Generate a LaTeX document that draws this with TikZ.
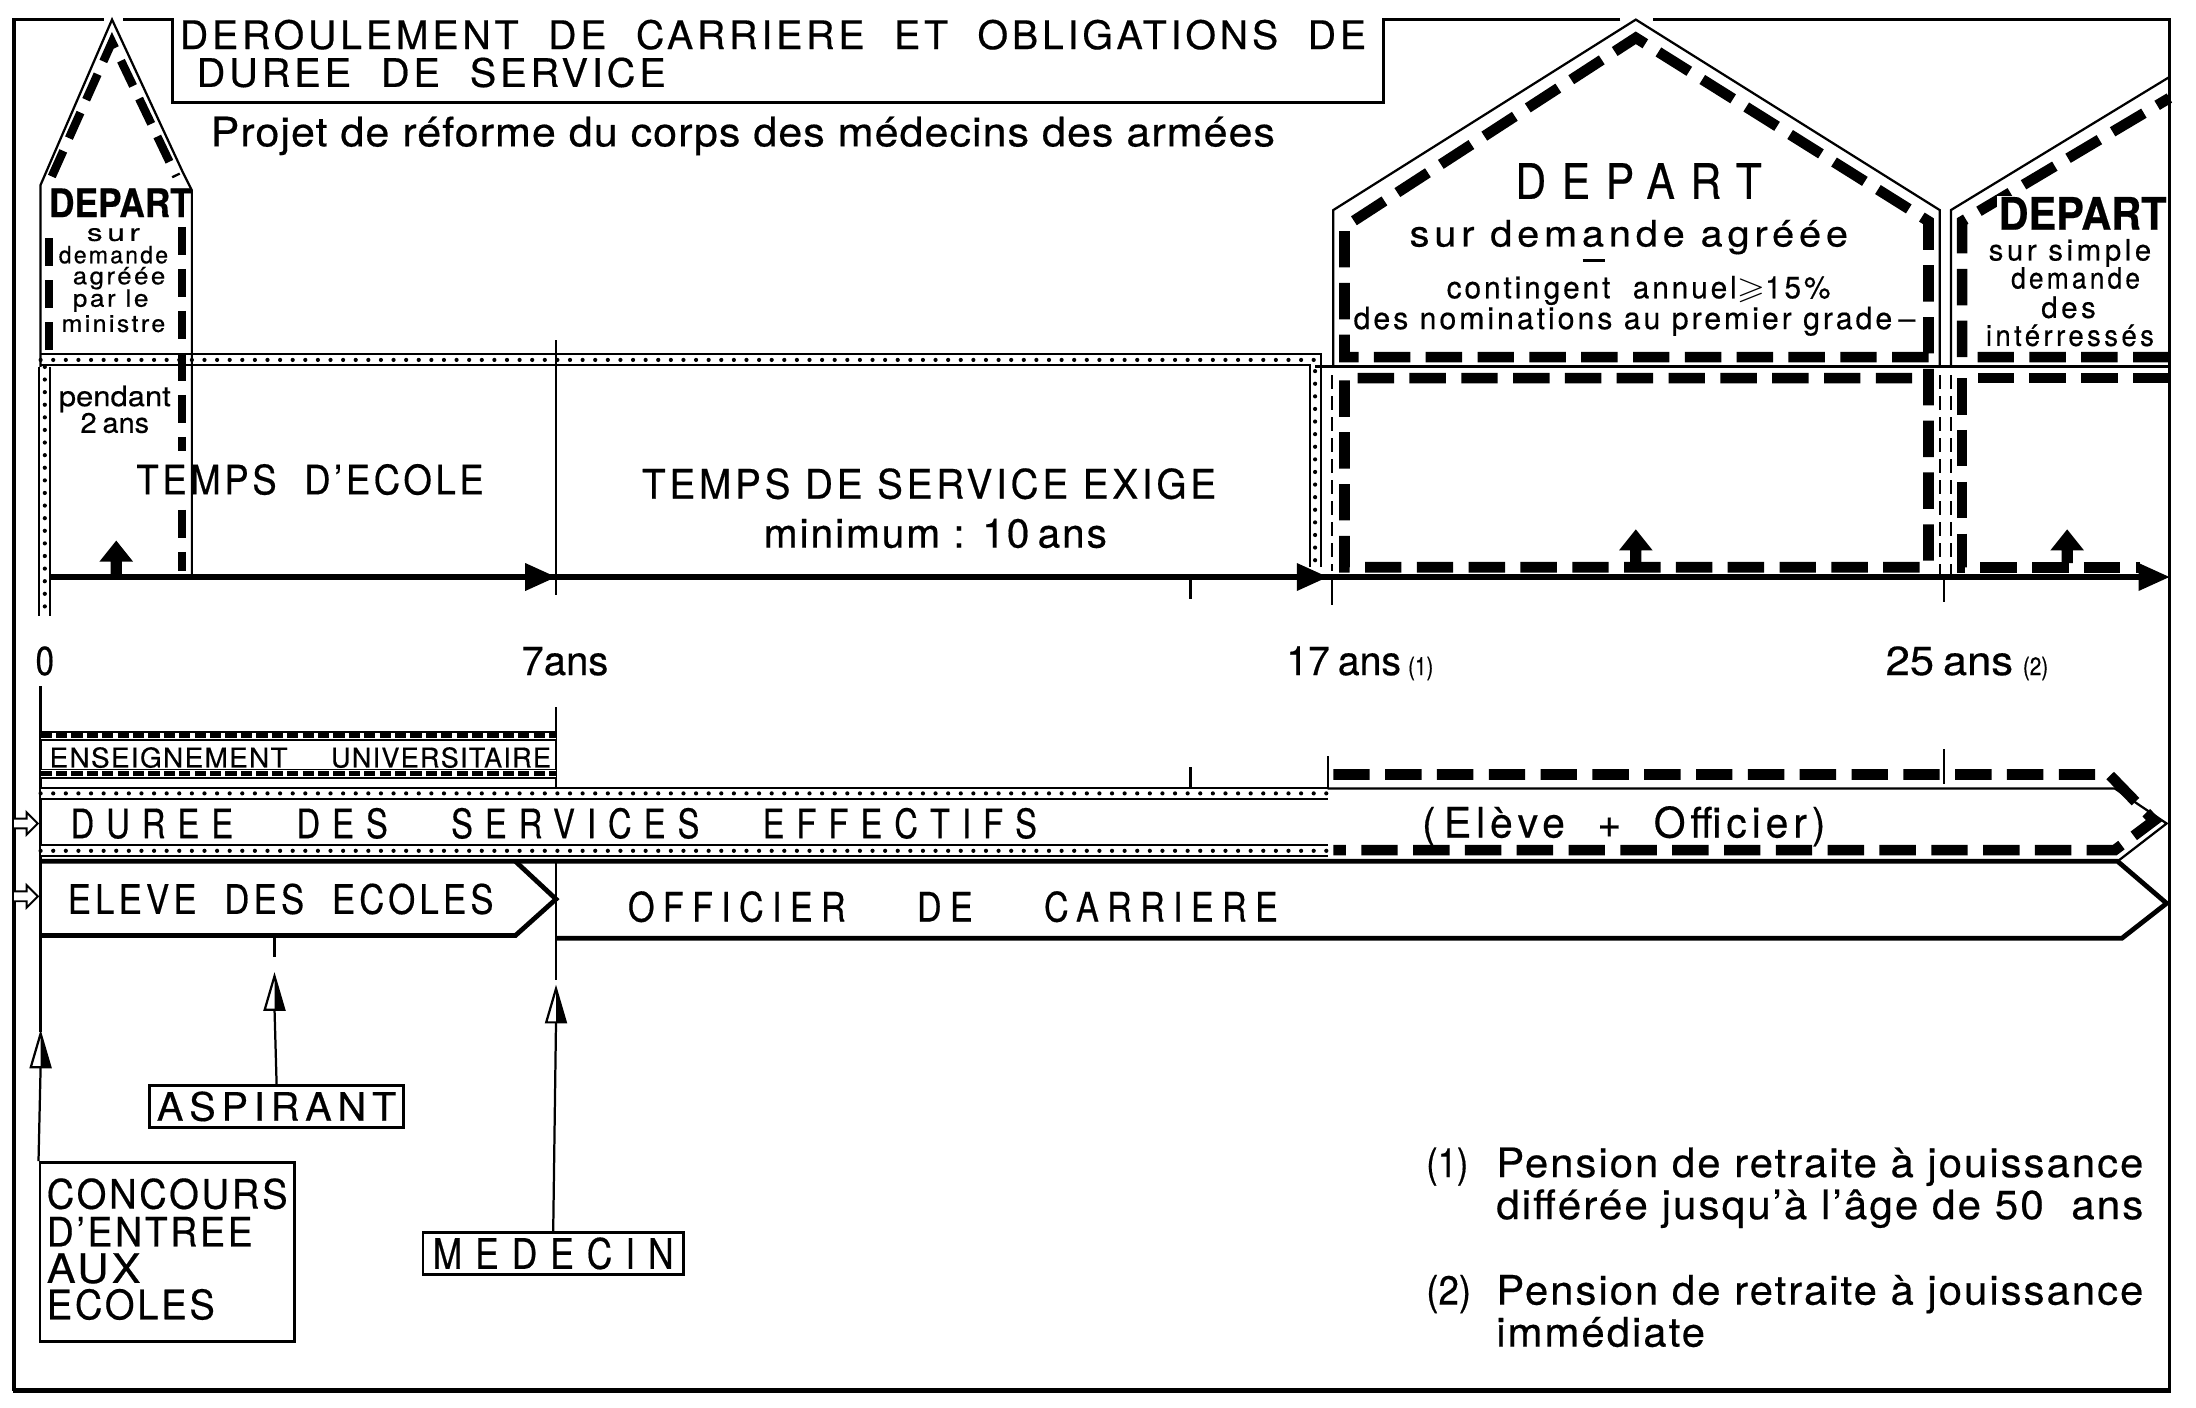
\documentclass[tikz,border=0pt]{standalone}
\usepackage{fontspec}
\usepackage{amssymb}
\usepackage{graphicx}
\setmainfont{TeX Gyre Heros}[FakeStretch=0.82,FakeBold=0.4]
\newlength\fitw
\newcommand\fitto[2]{\settowidth\fitw{#2}\pgfmathsetmacro\fitr{#1/\fitw}\scalebox{\fitr}[1]{#2}}
\newcommand\fsz[1]{\fontsize{#1}{#1}\selectfont}
\newcommand\lsp[1]{\addfontfeatures{LetterSpace=#1}}
\newcommand\uparr[2]{\fill (#1,#2) -- ++(12,15) -- ++(-8,0) -- ++(0,9) -- ++(-8,0) -- ++(0,-9) -- ++(-8,0) -- cycle;}
\newcommand\axhead[2]{\fill (#1,#2) -- ++(-22,-10) -- ++(0,20) -- cycle;}
\newcommand\halfhead[2]{\draw[line width=0.8pt,fill=white] (#1,#2) -- ++(-7,24) -- ++(14,0) -- cycle; \fill (#1,#2) -- ++(7,24) -- ++(-7,0) -- cycle;}
\newcommand\openarr[1]{\draw[line width=0.7pt,fill=white] (10,#1-3.5) -- (19,#1-3.5) -- (19,#1-8) -- (27,#1) -- (19,#1+8) -- (19,#1+3.5) -- (10,#1+3.5);}
\begin{document}
\begin{tikzpicture}[x=0.5pt,y=-0.5pt,
  t/.style={anchor=base west, inner sep=0pt},
  tc/.style={anchor=base, inner sep=0pt},
  fr/.style={line width=1.1pt},
  thn/.style={line width=0.8pt},
  bnd/.style={line width=1.7pt},
  bdash/.style={line width=3.8pt, dash pattern=on 13pt off 5.5pt},
  ldash/.style={line width=3pt, dash pattern=on 10pt off 5pt},
  tdash/.style={line width=0.7pt, dash pattern=on 5pt off 2.5pt},
  dotstrip/.style={preaction={draw, solid, line width=0.7pt, double, double distance=3.2pt, line cap=butt}, line width=1.5pt, line cap=round, dash pattern=on 0pt off 4.5pt},
  dashstrip/.style={preaction={draw, solid, line width=0.6pt, double, double distance=2.4pt}, line width=1.8pt, dash pattern=on 4pt off 1.5pt},
  boxn/.style={draw, line width=1pt, inner sep=0pt}
]
\useasboundingbox (0,0) rectangle (1568,1005);
\fill[white] (0,0) rectangle (1568,1005);

% ---------------- frame and title box
\draw[fr] (74,14) -- (10,14) -- (10,993);
\draw[line width=1.8pt] (9,993) -- (1550,993);
\draw[fr] (1549,994) -- (1549,14) -- (1180,14);
\draw[fr] (1157,14) -- (988,14) -- (988,73) -- (123,73) -- (123,14) -- (88,14);

\node[t, font={\fsz{14}\lsp{8}}] (title1) at (128,35) {\fitto{423.5}{DEROULEMENT\ \ DE\ \ CARRIERE\ \ ET\ \ OBLIGATIONS\ \ DE}};
\node[t, font={\fsz{14}\lsp{8}}] (title2) at (140,62) {\fitto{167.5}{DUREE\ \ DE\ \ SERVICE}};
\node[t, font={\fsz{14.5}\lsp{2}}] (projet) at (150,104.5) {\fitto{380}{Projet de réforme du corps des médecins des armées}};

% ---------------- upper timeline box
\draw[dotstrip] (29,257) -- (939,257) -- (939,405);
\draw[line width=1.1pt] (939,261.5) -- (1549,261.5);
\draw[dotstrip] (32,262) -- (32,440);
\draw[thn] (397,243) -- (397,425);
\draw[thn] (850,412) -- (850,428);
\draw[thn] (951,412) -- (951,432);
\draw[thn] (1388,412) -- (1388,430);
\draw[tdash] (951,268) -- (951,408);
\draw[tdash] (1385,268) -- (1385,410);
\draw[tdash] (1393,268) -- (1393,410);

% left house
\draw[thn] (29,262) -- (29,132) -- (80,14) -- (131,124) -- (137,136) -- (137,412);
\draw[ldash] (35,250) -- (35,162);
\draw[ldash] (37,126) -- (80,30) -- (126,126);
\draw[ldash] (130,162) -- (130,322);
\draw[ldash] (130,364) -- (130,408);
\node[tc, font={\fsz{14}\bfseries}] (ldep) at (86,155) {\fitto{51}{DEPART}};
\node[tc, font={\fsz{8.5}\lsp{12}}] (l1) at (81,172) {\fitto{19}{sur}};
\node[tc, font={\fsz{8.5}\lsp{8}}] (l2) at (81,188) {\fitto{39}{demande}};
\node[tc, font={\fsz{8.5}\lsp{8}}] (l3) at (85,203) {\fitto{33}{agréée}};
\node[tc, font={\fsz{8.5}\lsp{8}}] (l4) at (79,219) {\fitto{27}{par le}};
\node[tc, font={\fsz{8.5}\lsp{8}}] (l5) at (81,237) {\fitto{37}{ministre}};
\node[tc, font={\fsz{10}}] (l6) at (82,290) {\fitto{40}{pendant}};
\node[tc, font={\fsz{10}}] (l7) at (82,309) {\fitto{24.5}{2\,ans}};
\uparr{83}{386}

% big house
\draw[thn] (952,262) -- (952,150) -- (1168,14) -- (1385,150) -- (1385,262);
\draw[bdash] (1377,255) -- (960,255) -- (960,162) -- (1168,27) -- (1377,158) -- (1377,405) -- (960,405) -- (960,270) -- (1370,270);
\node[tc, font={\fsz{17.5}\lsp{30}}] (bdep) at (1170,142) {\fitto{88}{DEPART}};
\node[tc, font={\fsz{13}\lsp{10}}] (b1) at (1163,176) {\fitto{156.5}{sur demande agréée}};
\draw[line width=1pt] (1130,186) -- (1146,186);
\node[tc, font={\fsz{11}\lsp{8}}] (b2) at (1170,213) {\fitto{137}{contingent\ \ annuel$\geqslant$15\%}};
\node[tc, font={\fsz{11}\lsp{8}}] (b3) at (1167,235) {\fitto{200.5}{des nominations au premier grade\,–}};
\uparr{1168}{378}

% small house
\draw[thn] (1393,262) -- (1393,150) -- (1549,55);
\draw[bdash] (1549,255) -- (1401,255) -- (1401,158) -- (1549,70);
\draw[bdash] (1549,270) -- (1401,270) -- (1401,405) -- (1528,405);
\node[tc, fill=white, inner sep=0.5pt, font={\fsz{16}\bfseries}] (sdep) at (1487,164) {\fitto{60}{DEPART}};
\node[tc, font={\fsz{10.5}\lsp{10}}] (s1) at (1478,186) {\fitto{58}{sur simple}};
\node[tc, font={\fsz{10.5}\lsp{10}}] (s2) at (1482,206) {\fitto{46}{demande}};
\node[tc, font={\fsz{10.5}\lsp{10}}] (s3) at (1477,227) {\fitto{19.5}{des}};
\node[tc, font={\fsz{10.5}\lsp{10}}] (s4) at (1478,247) {\fitto{60}{intérressés}};
\uparr{1476}{378}

% upper texts
\node[t, font={\fsz{14.5}\lsp{8}}] (tecole) at (97,353) {\fitto{124}{TEMPS\ \ D’ECOLE}};
\node[t, font={\fsz{14.5}\lsp{8}}] (tserv) at (458,356) {\fitto{205}{TEMPS DE SERVICE EXIGE}};
\node[t, font={\fsz{14.5}\lsp{4}}] (tmin) at (545,391) {\fitto{122.5}{minimum : 10\,ans}};

% axis
\draw[line width=2.4pt] (35,412) -- (1540,412);
\axhead{397}{412}
\axhead{948}{412}
\axhead{1549}{412}

% axis labels
\node[t, font={\fsz{14.5}}] (a0) at (25,482) {0};
\node[t, font={\fsz{14.5}}] (a7) at (372,482) {\fitto{31}{7ans}};
\node[t, font={\fsz{14.5}}] (a17) at (918,482) {\fitto{41}{17\,ans}};
\node[t, font={\fsz{9}}] (a17n) at (1005,482) {(1)};
\node[t, font={\fsz{14.5}}] (a25) at (1346,482) {\fitto{45.5}{25\,ans}};
\node[t, font={\fsz{9}}] (a25n) at (1444,482) {(2)};

% ---------------- lower bands
\draw[thn] (29,490) -- (29,737);
\draw[thn] (397,505) -- (397,563);
\draw[thn] (948,540) -- (948,563);
\draw[thn] (850,548) -- (850,562);
\draw[thn] (1388,535) -- (1388,560);

% enseignement
\draw[dashstrip] (29,525.5) -- (397,525.5);
\draw[dashstrip] (29,552.5) -- (397,552.5);
\node[t, font={\fsz{9.7}\lsp{4}}] (ens1) at (35,548) {\fitto{85}{ENSEIGNEMENT}};
\node[t, font={\fsz{9.7}\lsp{4}}] (ens2) at (236,548) {\fitto{78.5}{UNIVERSITAIRE}};

% duree
\draw[dotstrip] (29,566.5) -- (948,566.5);
\draw[dotstrip] (29,607.5) -- (948,607.5);
\draw[thn] (948,563) -- (1510,563) -- (1547,588) -- (1512,615);
\draw[bdash] (952,553) -- (1506,553) -- (1538,586) -- (1510,607) -- (952,607);
\node[t, font={\fsz{14.5}\lsp{30}}] (duree) at (50,598.5) {\fitto{345}{DUREE\ \ \ DES\ \ \ SERVICES\ \ \ EFFECTIFS}};
\node[t, font={\fsz{15}\lsp{10}}] (elof) at (1015,598) {\fitto{144}{(\,Elève\ \ +\ \ Officier)}};
\openarr{588}
\openarr{640}

% eleve / officier
\draw[bnd] (29,615) -- (1512,615) -- (1547,645) -- (1515,670) -- (397,670);
\draw[bnd] (29,668) -- (368,668) -- (397,642) -- (368,615);
\draw[thn] (397,615) -- (397,700);
\draw[thn] (196,668) -- (196,683);
\node[t, font={\fsz{14.5}\lsp{10}}] (eleve) at (48,652.5) {\fitto{152}{ELEVE\ \ DES\ \ ECOLES}};
\node[t, font={\fsz{14.5}\lsp{20}}] (offi) at (448,658) {\fitto{232}{OFFICIER\ \ \ \ DE\ \ \ \ CARRIERE}};

% ---------------- arrows and boxes
\node[boxn, minimum width=90.5pt, minimum height=15pt, font={\fsz{14}\lsp{12}}] (asp) at (197.5,790) {\fitto{85.5}{ASPIRANT}};
\node[boxn, minimum width=93pt, minimum height=15pt, font={\fsz{15}\lsp{30}}] (med) at (395,895) {\fitto{86}{MEDECIN}};
\node[boxn, minimum width=91pt, minimum height=64pt] (conc) at (119.5,894) {};
\coordinate (aspH) at (196,720);
\coordinate (medH) at (397,730);
\coordinate (concH) at (29,762);
\draw[thn] (asp.north) -- (aspH);
\draw[thn] (med.north) -- (medH);
\draw[thn] (conc.north west) -- (concH);
\halfhead{196}{697}
\halfhead{397}{706}
\halfhead{29}{738}
\node[t, font={\fsz{14.5}\lsp{6}}] (c1) at (33,863) {\fitto{86}{CONCOURS}};
\node[t, font={\fsz{14.5}\lsp{6}}] (c2) at (33,890) {\fitto{73.5}{D’ENTREE}};
\node[t, font={\fsz{14.5}\lsp{6}}] (c3) at (33,916) {\fitto{33.5}{AUX}};
\node[t, font={\fsz{14.5}\lsp{6}}] (c4) at (33,942) {\fitto{60}{ECOLES}};

% footnotes
\node[t, font={\fsz{14.5}}] (f1n) at (1018,840.5) {\fitto{15}{(1)}};
\node[t, font={\fsz{14.5}\lsp{4}}] (f1a) at (1068,840.5) {\fitto{231}{Pension de retraite à jouissance}};
\node[t, font={\fsz{14.5}\lsp{4}}] (f1b) at (1068,870.5) {\fitto{231}{différée jusqu’à l’âge de 50\ \ ans}};
\node[t, font={\fsz{14.5}}] (f2n) at (1018,931.5) {\fitto{16}{(2)}};
\node[t, font={\fsz{14.5}\lsp{4}}] (f2a) at (1068,931.5) {\fitto{231}{Pension de retraite à jouissance}};
\node[t, font={\fsz{14.5}\lsp{4}}] (f2b) at (1068,961.5) {\fitto{74.5}{immédiate}};
\end{tikzpicture}
\end{document}
